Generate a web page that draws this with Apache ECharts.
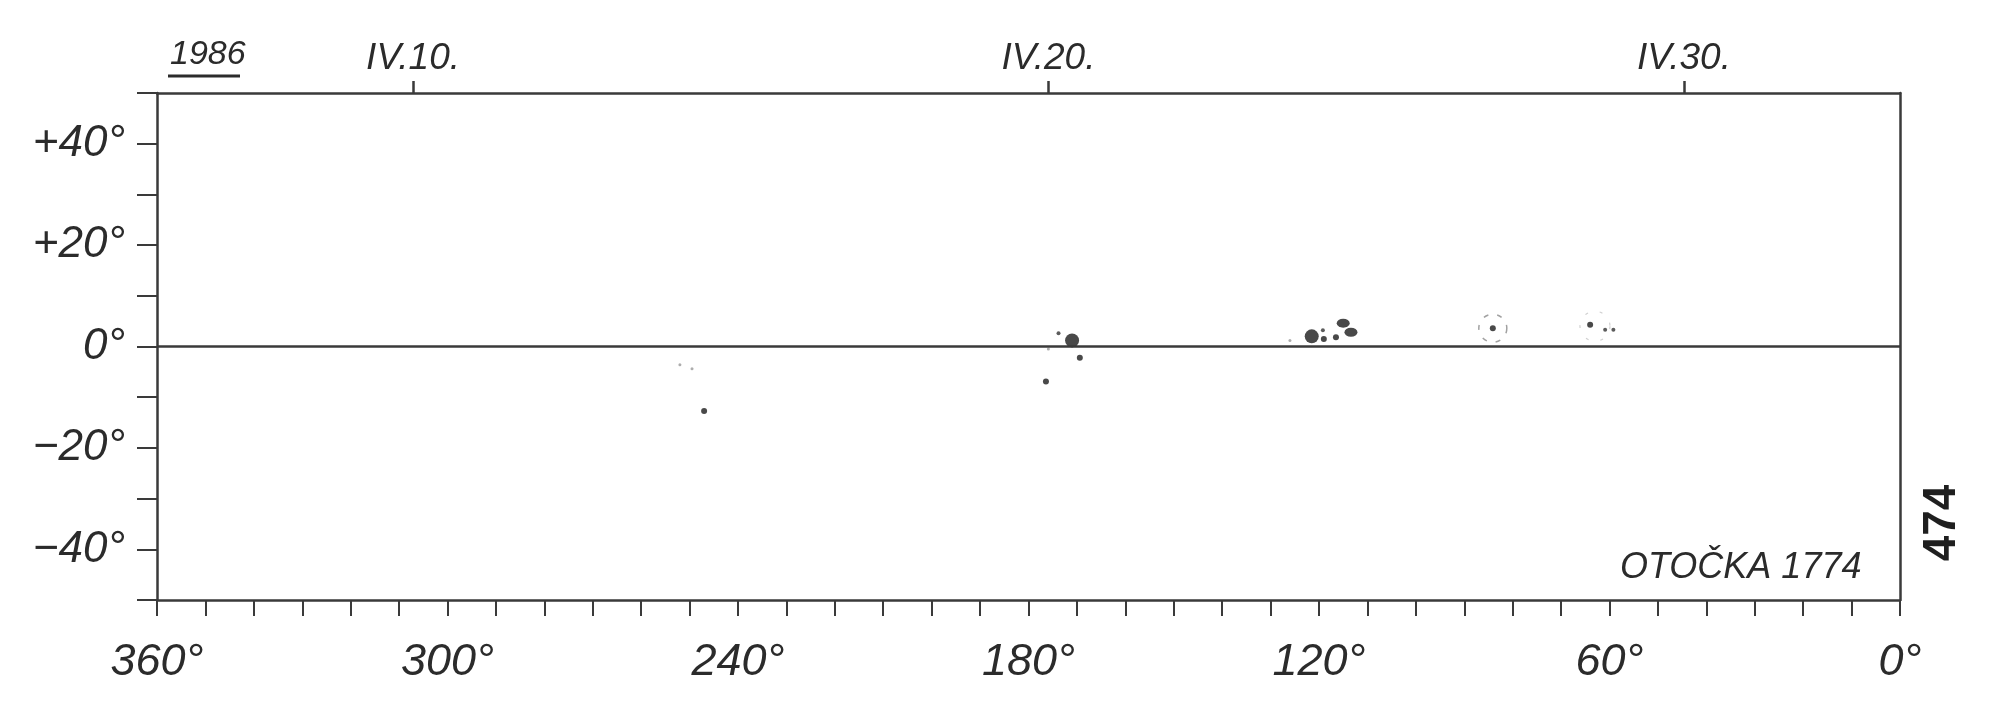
<!DOCTYPE html>
<html>
<head>
<meta charset="utf-8">
<script src="https://cdn.jsdelivr.net/npm/echarts@6/dist/echarts.min.js"></script>
<style>
html,body{margin:0;padding:0;background:#fff;}
#chart{width:2000px;height:714px;}
</style>
</head>
<body>
<div id="chart"></div>
<script>
// ---- data ----
const lonTickLabels = [0, 60, 120, 180, 240, 300, 360];
const latTickLabels = [-40, -20, 0, 20, 40];
const dateTicks = [10, 20, 30];          // April 1986 days marked on top axis
const dateMonth = 'IV';
const yearLabel = '1986';
const rotationLabel = 'OTOČKA 1774';
const sheetNumber = '474';

// sunspots: [Carrington longitude, heliographic latitude]
const largeSpots = [[171.0, 1.2], [121.5, 2.0]];
const elongatedSpots = [[115.0, 4.6], [113.4, 2.8]];
const smallSpots = [[176.4, -6.9], [247.0, -12.7], [84.1, 3.6], [64.0, 4.3], [119.0, 1.5], [116.5, 1.8], [169.4, -2.2]];
const pores = [[119.2, 3.2], [60.9, 3.3], [59.2, 3.3], [173.8, 2.6]];
const faintPores = [[252.0, -3.6], [249.5, -4.4], [126.0, 1.2], [175.9, -0.5]];
const penumbraRings = [[84.1, 3.6]];
const faintRings = [[63.0, 4.0]];

const ink = '#2b2b2b';
const lineInk = '#3a3a3a';
const font = '"Liberation Sans", sans-serif';

const chart = echarts.init(document.getElementById('chart'), null, {renderer: 'canvas'});

function latFmt(v) {
  if (latTickLabels.indexOf(v) < 0) return '';
  if (v > 0) return '+' + v + '°';
  if (v < 0) return '−' + Math.abs(v) + '°';
  return '0°';
}
function lonFmt(v) {
  return lonTickLabels.indexOf(v) >= 0 ? v + '°' : '';
}

const option = {
  backgroundColor: '#ffffff',
  animation: false,
  grid: {left: 157, right: 100, top: 93, bottom: 114, containLabel: false},
  xAxis: [
    {
      type: 'value', min: 0, max: 360, interval: 10, inverse: true, position: 'bottom',
      axisLine: {show: true, onZero: false, lineStyle: {color: lineInk, width: 2.5}},
      axisTick: {show: true, length: 16, inside: false, lineStyle: {color: lineInk, width: 2}},
      axisLabel: {formatter: lonFmt, margin: 40, color: ink, fontSize: 45, fontFamily: font, fontStyle: 'italic'},
      splitLine: {show: false}
    },
    {
      type: 'value', min: 5.97, max: 33.40, position: 'top',
      axisLine: {show: true, onZero: false, lineStyle: {color: lineInk, width: 2.5}},
      axisTick: {show: true, length: 12, inside: false, customValues: dateTicks, lineStyle: {color: lineInk, width: 2.5}},
      axisLabel: {customValues: dateTicks, formatter: v => dateMonth + '.' + v + '.', margin: 16, color: ink, fontSize: 37, fontFamily: font, fontStyle: 'italic'},
      splitLine: {show: false}
    }
  ],
  yAxis: [
    {
      type: 'value', min: -50, max: 50, interval: 10, position: 'left',
      axisLine: {show: true, onZero: false, lineStyle: {color: lineInk, width: 2.5}},
      axisTick: {show: true, length: 20, inside: false, lineStyle: {color: lineInk, width: 2}},
      axisLabel: {formatter: latFmt, margin: 32, color: ink, fontSize: 44, fontFamily: font, fontStyle: 'italic'},
      splitLine: {show: false}
    },
    {
      type: 'value', min: -50, max: 50, interval: 10, position: 'right',
      axisLine: {show: true, onZero: false, lineStyle: {color: lineInk, width: 2.5}},
      axisTick: {show: false}, axisLabel: {show: false}, splitLine: {show: false}
    }
  ],
  series: [
    {
      name: 'large spots', type: 'scatter', data: largeSpots, symbol: 'circle', symbolSize: 14,
      itemStyle: {color: '#1c1c1c'}, silent: true,
      markLine: {
        silent: true, symbol: ['none', 'none'], label: {show: false},
        lineStyle: {color: lineInk, width: 2.5, type: 'solid'},
        data: [{yAxis: 0}]
      }
    },
    {
      name: 'elongated spots', type: 'scatter', data: elongatedSpots, symbol: 'circle', symbolSize: [13, 9],
      itemStyle: {color: '#1c1c1c'}, silent: true
    },
    {
      name: 'small spots', type: 'scatter', data: smallSpots, symbol: 'circle', symbolSize: 6,
      itemStyle: {color: '#1c1c1c'}, silent: true
    },
    {
      name: 'pores', type: 'scatter', data: pores, symbol: 'circle', symbolSize: 4,
      itemStyle: {color: '#333'}, silent: true
    },
    {
      name: 'faint pores', type: 'scatter', data: faintPores, symbol: 'circle', symbolSize: 3,
      itemStyle: {color: '#999'}, silent: true
    },
    {
      name: 'penumbra', type: 'scatter', data: penumbraRings, symbol: 'circle', symbolSize: 28,
      itemStyle: {color: 'rgba(0,0,0,0)', borderColor: '#8a8a8a', borderWidth: 1.5, borderType: [5, 9]}, silent: true
    },
    {
      name: 'faint penumbra', type: 'scatter', data: faintRings, symbol: 'circle', symbolSize: 30,
      itemStyle: {color: 'rgba(0,0,0,0)', borderColor: '#c4c4c4', borderWidth: 1.2, borderType: [3, 12]}, silent: true
    }
  ],
  graphic: [
    {
      type: 'text', left: 170, top: 38,
      style: {text: yearLabel, fill: ink, font: 'italic 34px ' + font}
    },
    {
      type: 'line', shape: {x1: 168, y1: 76, x2: 240, y2: 76},
      style: {stroke: ink, lineWidth: 3}
    },
    {
      type: 'text', left: 1620, top: 550,
      style: {text: rotationLabel, fill: ink, font: 'italic 36px ' + font}
    },
    {
      type: 'text', x: 1942, y: 523, rotation: Math.PI / 2,
      style: {text: sheetNumber, fill: '#1f1f1f', font: 'bold 46px ' + font, align: 'center', verticalAlign: 'middle'}
    }
  ]
};
chart.setOption(option);
</script>
</body>
</html>
